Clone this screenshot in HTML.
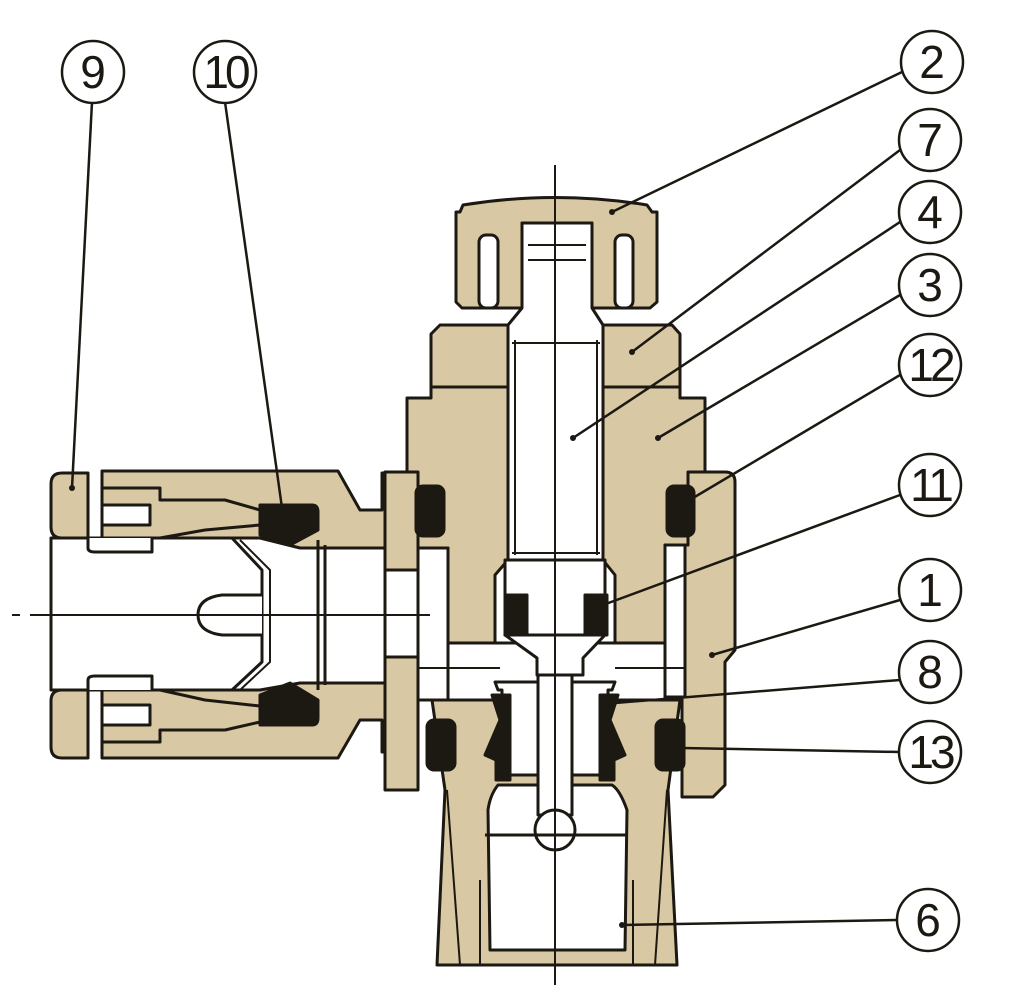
<!DOCTYPE html>
<html><head><meta charset="utf-8"><style>
html,body{margin:0;padding:0;background:#fff}
svg{display:block}
text{font-family:"Liberation Sans",sans-serif;font-size:46px;fill:#1c1812}
</style></head><body>
<svg width="1020" height="985" viewBox="0 0 1020 985" xmlns="http://www.w3.org/2000/svg">
<g stroke="#1c1812" stroke-width="3" stroke-linejoin="round" fill="#d9c8a4">
<!-- fitting body (left) -->
<path d="M102,471 L338,471 L360,510 L382,510 L382,473 L410,473 L418,480 L418,752 L382,752 L382,720 L360,720 L338,758 L102,758 Z"/>
<!-- collet 9 -->
<path d="M62,473 L88,473 L88,538 L62,538 Q51,538 51,527 L51,484 Q51,473 62,473 Z"/>
<path d="M62,690 L88,690 L88,758 L62,758 Q51,758 51,747 L51,701 Q51,690 62,690 Z"/>
<!-- bore white -->
<path d="M51,538 L260,538 L300,548 L385,548 L385,683 L300,683 L260,690 L51,690 Z" fill="#fff"/>
<path d="M102,488 L160,488 L160,500 L225,500 L260,510 L260,525 L205,530 L160,538 L102,538 Z" fill="#d9c8a4"/>
<path d="M102,690 L160,690 L205,700 L260,706 L260,722 L225,730 L160,730 L160,742 L102,742 Z" fill="#d9c8a4"/>
<path d="M102,505 L150,505 L150,525 L102,525 Z" fill="#fff"/>
<path d="M102,705 L150,705 L150,725 L102,725 Z" fill="#fff"/>
<path d="M88,538 L88,548 Q88,552 95,552 L152,552 L152,538" fill="#fff"/>
<path d="M88,690 L88,680 Q88,676 95,676 L152,676 L152,690" fill="#fff"/>
<path d="M232,538 L262,570 L262,662 L232,690" fill="none"/>
<path d="M240,540 L270,570 L270,662 L240,690" fill="none" stroke-width="2"/>
<path d="M262,595 L222,595 Q198,598 198,615 Q198,632 222,635 L262,635" fill="#fff"/>
<!-- seals 10 -->
<path d="M260,505 L312,505 Q318,505 318,512 L318,530 L290,545 L260,535 Z" fill="#1c1812"/>
<path d="M260,725 L312,725 Q318,725 318,718 L318,700 L290,683 L260,695 Z" fill="#1c1812"/>
<line x1="318" y1="540" x2="318" y2="690"/><line x1="325" y1="545" x2="325" y2="685"/>
<!-- part 1 outer housing -->
<path d="M385,472 L418,472 L418,790 L385,790 Z"/>
<rect x="385" y="570" width="33" height="87" fill="#fff"/>
<path d="M688,472 L725,472 Q735,472 735,482 L735,650 L725,662 L725,785 L713,797 L682,797 L682,545 L688,545 Z"/>
<!-- body 3 -->
<path d="M407,398 L431,398 L431,387 L508,387 L508,560 L495,575 L495,643 L448,643 L448,548 L418,548 L418,472 L407,472 Z"/>
<path d="M603,387 L680,387 L680,398 L705,398 L705,472 L688,472 L688,545 L665,545 L665,643 L615,643 L615,575 L603,560 Z"/>
<rect x="418" y="548" width="30" height="152" fill="#fff"/>
<rect x="665" y="545" width="20" height="152" fill="#fff"/>
<!-- nut 7 -->
<path d="M440,325 L508,325 L508,387 L431,387 L431,334 Z"/>
<path d="M603,325 L672,325 L680,334 L680,387 L603,387 Z"/>
<!-- knob 2 -->
<path d="M463,205 Q555,190 647,205 L652,212 L657,212 L657,302 L650,308 L592,308 L592,223 L522,223 L522,308 L462,308 L456,302 L456,212 L460,212 Z"/>
<rect x="479" y="235" width="19" height="73" rx="7" fill="#fff"/>
<rect x="615" y="235" width="18" height="73" rx="7" fill="#fff"/>
<!-- stem 4 -->
<path d="M522,223 L592,223 L592,308 L603,325 L603,560 L508,560 L508,325 L522,308 Z" fill="#fff"/>
<line x1="515" y1="340" x2="515" y2="555" stroke-width="2"/><line x1="597" y1="340" x2="597" y2="555" stroke-width="2"/>
<line x1="528" y1="245" x2="586" y2="245" stroke-width="2"/><line x1="528" y1="260" x2="586" y2="260" stroke-width="2"/>
<line x1="512" y1="343" x2="600" y2="343" stroke-width="2"/><line x1="512" y1="553" x2="600" y2="553" stroke-width="2"/>
<!-- seals 12 -->
<rect x="416" y="486" width="28" height="50" rx="7" fill="#1c1812"/>
<rect x="667" y="486" width="27" height="50" rx="7" fill="#1c1812"/>
<!-- seat 11 -->
<path d="M505,560 L605,560 L605,635 L505,635 Z" fill="#fff"/>
<rect x="505" y="595" width="22" height="40" fill="#1c1812"/>
<rect x="585" y="595" width="22" height="40" fill="#1c1812"/>
<!-- inner chamber -->
<path d="M448,643 L665,643 L665,700 L448,700 Z" fill="#fff"/>
<path d="M505,635 L605,635 L583,658 L583,675 L537,675 L537,658 Z" fill="#fff"/>
<line x1="418" y1="668" x2="500" y2="668" stroke-width="2"/>
<line x1="615" y1="668" x2="685" y2="668" stroke-width="2"/>
<!-- part 6 -->
<path d="M432,700 L505,700 L505,695 L510,690 L600,690 L610,700 L680,700 L668,790 L677,965 L437,965 L445,790 Z"/>
<path d="M488,810 L490,950 L625,950 L627,810 Q620,790 612,785 L498,785 Q490,795 488,810 Z" fill="#fff"/>
<path d="M480,880 L480,965 M633,880 L633,965 M447,790 L460,965 M667,790 L655,965" fill="none" stroke-width="2"/>
<!-- check valve 8 -->
<path d="M495,682 L615,682 L612,690 L608,690 L608,775 L502,775 L502,690 L498,690 Z" fill="#fff"/>
<path d="M492,695 L510,695 L510,780 L496,780 L496,760 L485,755 L500,720 Z" fill="#1c1812"/>
<path d="M618,695 L600,695 L600,780 L614,780 L614,760 L625,755 L610,720 Z" fill="#1c1812"/>
<path d="M538,675 L572,675 L572,815 L538,815 Z" fill="#fff"/>
<circle cx="555" cy="830" r="20" fill="#fff"/>
<line x1="485" y1="835" x2="628" y2="835"/>
<!-- seals 13 -->
<rect x="427" y="720" width="28" height="50" rx="7" fill="#1c1812"/>
<rect x="656" y="720" width="28" height="50" rx="7" fill="#1c1812"/>
</g>
<!-- centerlines -->
<g stroke="#1c1812" stroke-width="2" fill="none">
<line x1="555" y1="165" x2="555" y2="985"/>
<line x1="12" y1="615" x2="20" y2="615"/>
<line x1="30" y1="615" x2="430" y2="615"/>
</g>
<!-- leaders -->
<g stroke="#1c1812" stroke-width="2.5" fill="none">
<line x1="92" y1="102" x2="72" y2="488"/>
<line x1="225" y1="102" x2="283" y2="515"/>
<line x1="902" y1="72" x2="612" y2="212"/>
<line x1="900" y1="150" x2="632" y2="352"/>
<line x1="900" y1="222" x2="573" y2="438"/>
<line x1="900" y1="295" x2="658" y2="438"/>
<line x1="900" y1="375" x2="693" y2="498"/>
<line x1="900" y1="495" x2="603" y2="605"/>
<line x1="900" y1="600" x2="712" y2="655"/>
<line x1="900" y1="680" x2="615" y2="703"/>
<line x1="900" y1="752" x2="682" y2="748"/>
<line x1="898" y1="920" x2="622" y2="925"/>
</g>
<g fill="#1c1812">
<circle cx="72" cy="488" r="3"/><circle cx="612" cy="212" r="3"/><circle cx="632" cy="352" r="3"/>
<circle cx="573" cy="438" r="3"/><circle cx="658" cy="438" r="3"/><circle cx="712" cy="655" r="3"/>
<circle cx="622" cy="925" r="3"/>
</g>
<!-- label circles -->
<g stroke="#1c1812" stroke-width="2.5" fill="#fff">
<circle cx="93" cy="72" r="31"/><circle cx="225" cy="72" r="31"/>
<circle cx="932" cy="62" r="31"/><circle cx="930" cy="140" r="31"/>
<circle cx="930" cy="212" r="31"/><circle cx="930" cy="285" r="31"/>
<circle cx="930" cy="365" r="31"/><circle cx="930" cy="485" r="31"/>
<circle cx="930" cy="590" r="31"/><circle cx="930" cy="672" r="31"/>
<circle cx="930" cy="752" r="31"/><circle cx="928" cy="920" r="31"/>
</g>
<g text-anchor="middle">
<text x="93" y="88">9</text><text x="225" y="88" letter-spacing="-4">10</text>
<text x="932" y="78">2</text><text x="930" y="156">7</text>
<text x="930" y="228">4</text><text x="930" y="301">3</text>
<text x="930" y="381" letter-spacing="-4">12</text><text x="930" y="501" letter-spacing="-4">11</text>
<text x="930" y="606">1</text><text x="930" y="688">8</text>
<text x="930" y="768" letter-spacing="-4">13</text><text x="928" y="936">6</text>
</g>
</svg>
</body></html>
